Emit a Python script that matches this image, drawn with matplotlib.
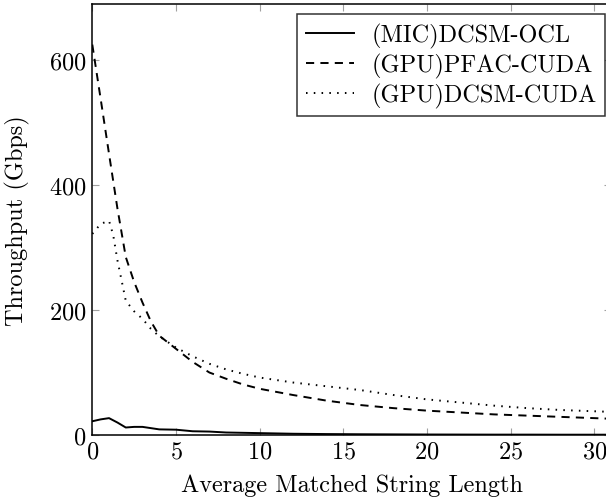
import matplotlib
matplotlib.use("Agg")
import matplotlib.pyplot as plt

plt.rcParams["font.family"] = ["cmr10", "DejaVu Serif"]
plt.rcParams["mathtext.fontset"] = "cm"
plt.rcParams["axes.formatter.use_mathtext"] = True

# Throughput (Gbps) versus average matched string length
x_mic = [0, 0.5, 1, 1.5, 2, 2.5, 3, 3.5, 4, 5, 6, 7, 8, 9, 10, 12, 14, 16, 18, 20, 22, 24, 26, 28, 30, 31]
mic_dcsm_ocl = [22, 25, 27, 20, 12, 13, 13, 11, 9, 8.5, 6, 5.5, 4, 3.5, 3, 2, 1.5, 1.2, 1, 0.8, 0.7, 0.6, 0.6, 0.5, 0.5, 0.5]

x_pfac = [0, 0.5, 1, 1.5, 2, 2.5, 3, 3.5, 4, 5, 6, 7, 8, 9, 10, 12, 14, 16, 18, 20, 22, 24, 26, 28, 30, 31]
gpu_pfac_cuda = [625, 538, 450, 363, 285, 245, 212, 182, 159, 138, 117, 100, 90, 81, 74, 64, 55, 48, 43, 39, 36, 33, 31, 29, 27, 26]

x_dcsm = [0, 0.5, 1, 1.25, 1.5, 2, 2.5, 3, 3.5, 4, 5, 6, 7, 8, 9, 10, 12, 14, 16, 18, 20, 22, 24, 26, 28, 30, 31]
gpu_dcsm_cuda = [322, 338, 343, 320, 280, 215, 198, 186, 170, 158, 140, 126, 114, 105, 98, 92, 84, 78, 72, 64, 57, 52, 47, 43, 40, 38, 37]

x_ticks = [0, 5, 10, 15, 20, 25, 30]
y_ticks = [0, 200, 400, 600]

W, H = 606, 502
fig = plt.figure(figsize=(W / 100, H / 100), dpi=100)
left, right, bottom, top = 92.3, 611.0, 436.0, 5.0
ax = fig.add_axes([left / W, (H - bottom) / H, (right - left) / W, (bottom - top) / H])

lw = 1.4
ax.plot(x_mic, mic_dcsm_ocl, color="black", lw=lw, label="(MIC)DCSM-OCL")
ax.plot(x_pfac, gpu_pfac_cuda, color="black", lw=lw, linestyle=(0, (4.2, 3.2)), label="(GPU)PFAC-CUDA")
ax.plot(x_dcsm, gpu_dcsm_cuda, color="black", lw=lw, linestyle=(0, (0.8, 3.2)), label="(GPU)DCSM-CUDA")

ax.set_xlim(0, 31)
ax.set_ylim(0, 690)
ax.set_xticks(x_ticks)
ax.set_yticks(y_ticks)
fs = 17.5
ax.tick_params(direction="in", length=5, width=0.8, color="#a0a0a0",
               top=True, right=True, labelsize=fs, pad=4)
for s in ax.spines.values():
    s.set_linewidth(1.1)
    s.set_color("black")

ax.set_xlabel("Average Matched String Length", fontsize=fs, labelpad=8)
ax.set_ylabel("Throughput (Gbps)", fontsize=fs, labelpad=14)

leg = ax.legend(loc="upper left", bbox_to_anchor=((297 - left) / (right - left), 1 - (15 - top) / (bottom - top)),
                fontsize=fs, frameon=True, fancybox=False, edgecolor="black",
                handlelength=2.0, handletextpad=0.7, borderpad=0.35, labelspacing=0.2,
                borderaxespad=0)
leg.get_frame().set_linewidth(1.1)

fig.savefig("out.png", dpi=100)
